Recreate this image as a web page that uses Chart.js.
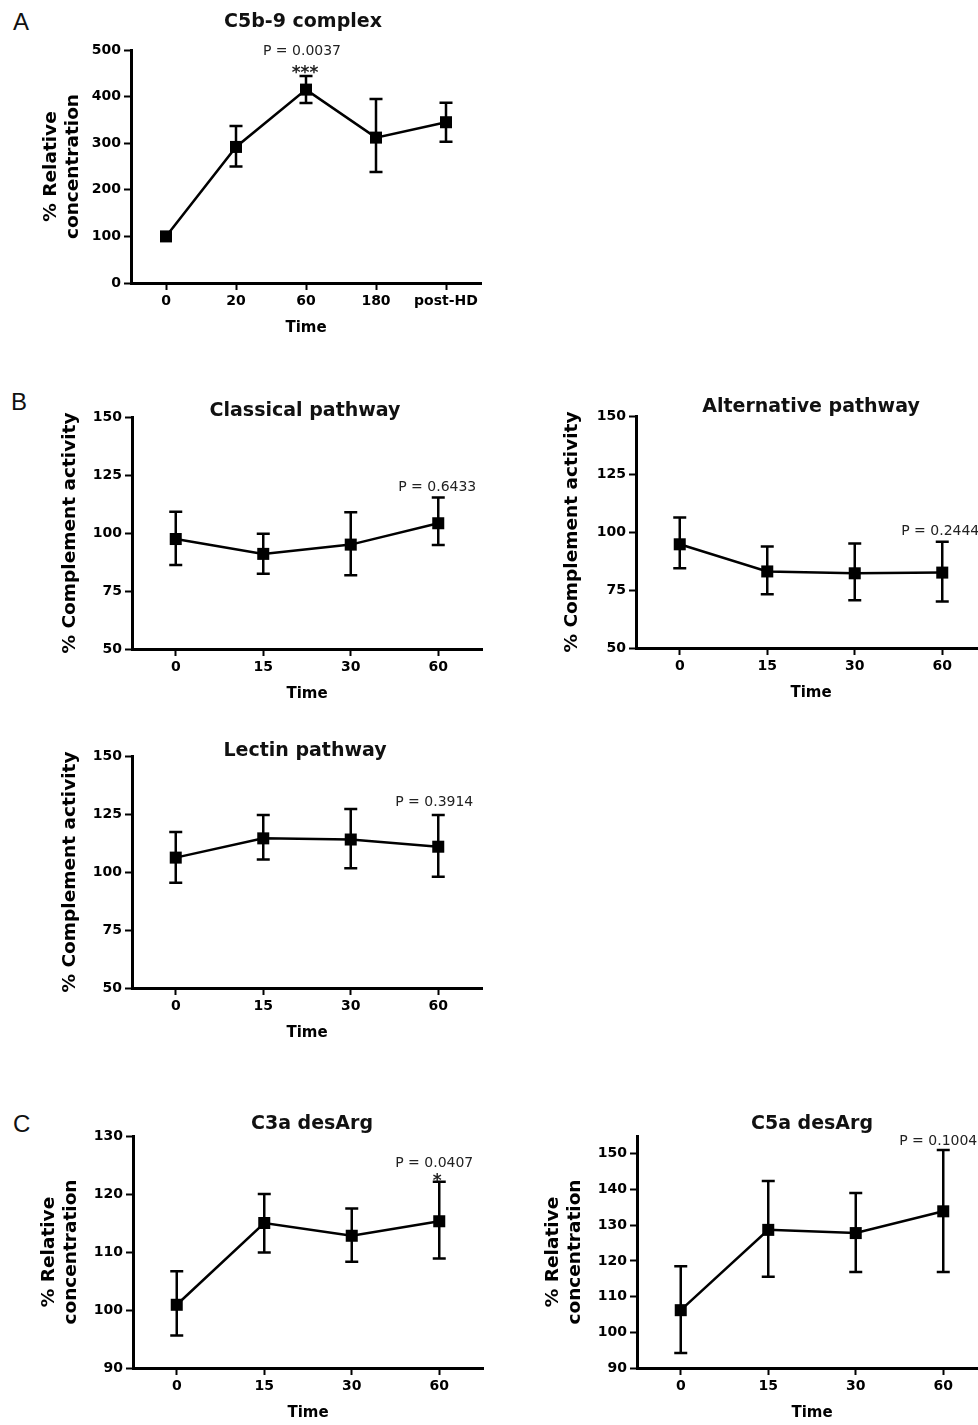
<!DOCTYPE html>
<html>
<head>
<meta charset="utf-8">
<title>Complement activation during haemodialysis</title>
<script src="https://cdn.jsdelivr.net/npm/chart.js@4.4.1/dist/chart.umd.min.js"></script>
<style>
  html, body { margin: 0; padding: 0; background: #fff; width: 978px; height: 1425px; overflow: hidden; }
  canvas { position: absolute; }
  .letter { position: absolute; font: 24px/24px "Liberation Sans", Arial, sans-serif; color: #111; }
</style>
</head>
<body>
<div class="letter" style="left:13px;top:10px">A</div>
<div class="letter" style="left:11px;top:390px">B</div>
<div class="letter" style="left:13px;top:1112px">C</div>

<canvas id="c5b9"></canvas>
<canvas id="classical"></canvas>
<canvas id="alternative"></canvas>
<canvas id="lectin"></canvas>
<canvas id="c3a"></canvas>
<canvas id="c5a"></canvas>

<script>
// time points
const timeA = ['0', '20', '60', '180', 'post-HD'];
const timeB = ['0', '15', '30', '60'];

// A - C5b-9 complex (mean, lower and upper error bar)
const c5b9Mean = [100, 292, 415, 312, 345];
const c5b9Low = [100, 250, 386, 238, 303];
const c5b9High = [100, 337, 444, 395, 387];

// B - pathways
const classicalMean = [97.4, 91, 95, 104.2];
const classicalLow = [86.2, 82.4, 81.8, 94.8];
const classicalHigh = [109.2, 99.7, 108.9, 115.3];

const alternativeMean = [94.7, 83, 82.2, 82.5];
const alternativeLow = [84.4, 73.2, 70.6, 70];
const alternativeHigh = [106.2, 93.7, 95, 95.8];

const lectinMean = [106.2, 114.5, 114, 110.9];
const lectinLow = [95.4, 105.4, 101.6, 98];
const lectinHigh = [117.2, 124.6, 127.2, 124.6];

// C - anaphylatoxins
const c3aMean = [100.9, 115, 112.8, 115.3];
const c3aLow = [95.6, 109.9, 108.3, 108.9];
const c3aHigh = [106.7, 120, 117.5, 122.1];

const c5aMean = [106.2, 128.7, 127.8, 133.9];
const c5aLow = [94.2, 115.6, 116.9, 116.9];
const c5aHigh = [118.5, 142.4, 139, 151.1];

// y tick labels
const yTicksA = [0, 100, 200, 300, 400, 500];
const yTicksB = [50, 75, 100, 125, 150];
const yTicksC3a = [90, 100, 110, 120, 130];
const yTicksC5a = [90, 100, 110, 120, 130, 140, 150];

const FONT = '"DejaVu Sans", "Liberation Sans", sans-serif';
const Y_AXIS_W = 110;
const X_AXIS_H = 60;
const PAD_TOP = 60;
const PAD_RIGHT = 15;

// error bars, panel title and P value
const extras = {
  id: 'extras',
  beforeDatasetsDraw(chart, args, opts) {
    const { ctx } = chart;
    const xs = chart.scales.x, ys = chart.scales.y;
    ctx.save();
    ctx.strokeStyle = '#000';
    ctx.lineWidth = 2.5;
    opts.low.forEach((lo, i) => {
      const hi = opts.high[i];
      if (hi === lo) return;
      const px = xs.getPixelForValue(i);
      const y1 = ys.getPixelForValue(hi);
      const y2 = ys.getPixelForValue(lo);
      ctx.beginPath();
      ctx.moveTo(px, y1); ctx.lineTo(px, y2);
      ctx.moveTo(px - 6.5, y1); ctx.lineTo(px + 6.5, y1);
      ctx.moveTo(px - 6.5, y2); ctx.lineTo(px + 6.5, y2);
      ctx.stroke();
    });
    ctx.restore();
  },
  afterDraw(chart, args, opts) {
    const { ctx, chartArea } = chart;
    const xs = chart.scales.x, ys = chart.scales.y;
    ctx.save();
    ctx.fillStyle = '#111';
    ctx.textAlign = 'center';
    ctx.textBaseline = 'alphabetic';

    ctx.font = `bold 19px ${FONT}`;
    ctx.fillText(opts.title, (chartArea.left + chartArea.right) / 2 + opts.titleDx, chartArea.top + opts.titleDy);

    const a = opts.annot;
    const px = xs.getPixelForValue(a.index) + a.dx;
    const top = ys.getPixelForValue(opts.high[a.index]);
    ctx.fillStyle = '#222';
    ctx.font = `14px ${FONT}`;
    ctx.fillText(a.text, px, top + a.dy);
    if (a.stars) {
      ctx.font = `bold 17px ${FONT}`;
      ctx.fillText(a.stars, px + 3, top + a.starDy);
    }
    ctx.restore();
  }
};

function makePanel(id, area, cfg) {
  const canvas = document.getElementById(id);
  const w = area.right - area.left;
  const h = area.bottom - area.top;
  canvas.width = w + Y_AXIS_W + PAD_RIGHT;
  canvas.height = h + PAD_TOP + X_AXIS_H;
  canvas.style.left = (area.left - Y_AXIS_W) + 'px';
  canvas.style.top = (area.top - PAD_TOP) + 'px';

  const tickFont = { family: FONT, size: 14, weight: 'bold' };
  const grid = { display: true, drawOnChartArea: false, drawTicks: true, tickLength: 7, tickWidth: 2, tickColor: '#000', offset: false };
  const border = { display: true, color: '#000', width: 3 };

  new Chart(canvas, {
    type: 'line',
    data: {
      labels: cfg.labels,
      datasets: [{
        data: cfg.mean,
        borderColor: '#000',
        borderWidth: 2.5,
        tension: 0,
        fill: false,
        pointStyle: 'rect',
        pointRadius: 8.5,
        pointBorderWidth: 0,
        pointBackgroundColor: '#000',
        clip: false
      }]
    },
    options: {
      responsive: false,
      animation: false,
      events: [],
      layout: { padding: { left: 0, top: PAD_TOP, right: PAD_RIGHT, bottom: 0 } },
      plugins: {
        legend: { display: false },
        tooltip: { enabled: false },
        extras: {
          low: cfg.low, high: cfg.high,
          title: cfg.title, titleDx: cfg.titleDx, titleDy: cfg.titleDy,
          annot: cfg.annot
        }
      },
      scales: {
        x: {
          type: 'category',
          offset: true,
          grid, border,
          ticks: { color: '#000', font: tickFont, padding: 3, maxRotation: 0, autoSkip: false },
          title: { display: true, text: 'Time', color: '#000', font: { family: FONT, size: 15, weight: 'bold' }, padding: { top: 0, bottom: 5.5 } },
          afterFit: s => { s.height = X_AXIS_H; }
        },
        y: {
          min: cfg.min, max: cfg.max,
          bounds: 'data',
          afterBuildTicks: s => { s.ticks = cfg.yTicks.map(v => ({ value: v })); },
          grid, border,
          ticks: { color: '#000', font: tickFont, padding: 3 },
          title: {
            display: true, text: cfg.yTitle, color: '#000',
            font: { family: FONT, size: 18.5, weight: 'bold', lineHeight: 1.15 },
            padding: { top: cfg.yTitlePad, bottom: 0 }
          },
          afterFit: s => { s.width = Y_AXIS_W; }
        }
      }
    },
    plugins: [extras]
  });
}

const relConc = ['% Relative', 'concentration'];
const complAct = '% Complement activity';

makePanel('c5b9', { left: 131, top: 50, right: 481, bottom: 283 }, {
  labels: timeA, mean: c5b9Mean, low: c5b9Low, high: c5b9High,
  min: 0, max: 500, yTicks: yTicksA, yTitle: relConc, yTitlePad: 20,
  title: 'C5b-9 complex', titleDx: -3, titleDy: -22.7,
  annot: { index: 2, text: 'P = 0.0037', dx: -4, dy: -21, stars: '***', starDy: 1.5 }
});

makePanel('classical', { left: 132, top: 417, right: 482, bottom: 649 }, {
  labels: timeB, mean: classicalMean, low: classicalLow, high: classicalHigh,
  min: 50, max: 150, yTicks: yTicksB, yTitle: complAct, yTitlePad: 38,
  title: 'Classical pathway', titleDx: -2, titleDy: -1,
  annot: { index: 3, text: 'P = 0.6433', dx: -1, dy: -6.5 }
});

makePanel('alternative', { left: 636, top: 416, right: 986, bottom: 648 }, {
  labels: timeB, mean: alternativeMean, low: alternativeLow, high: alternativeHigh,
  min: 50, max: 150, yTicks: yTicksB, yTitle: complAct, yTitlePad: 36,
  title: 'Alternative pathway', titleDx: 0, titleDy: -4,
  annot: { index: 3, text: 'P = 0.2444', dx: -2, dy: -7 }
});

makePanel('lectin', { left: 132, top: 756, right: 482, bottom: 988 }, {
  labels: timeB, mean: lectinMean, low: lectinLow, high: lectinHigh,
  min: 50, max: 150, yTicks: yTicksB, yTitle: complAct, yTitlePad: 38,
  title: 'Lectin pathway', titleDx: -2, titleDy: 0,
  annot: { index: 3, text: 'P = 0.3914', dx: -4, dy: -9 }
});

makePanel('c3a', { left: 133, top: 1136, right: 483, bottom: 1368 }, {
  labels: timeB, mean: c3aMean, low: c3aLow, high: c3aHigh,
  min: 90, max: 130, yTicks: yTicksC3a, yTitle: relConc, yTitlePad: 16,
  title: 'C3a desArg', titleDx: 4, titleDy: -6.7,
  annot: { index: 3, text: 'P = 0.0407', dx: -5, dy: -15, stars: '*', starDy: 3.7 }
});

makePanel('c5a', { left: 637, top: 1136, right: 987, bottom: 1368 }, {
  labels: timeB, mean: c5aMean, low: c5aLow, high: c5aHigh,
  min: 90, max: 155, yTicks: yTicksC5a, yTitle: relConc, yTitlePad: 16,
  title: 'C5a desArg', titleDx: 0, titleDy: -6.7,
  annot: { index: 3, text: 'P = 0.1004', dx: -5, dy: -4.5 }
});
</script>
</body>
</html>
